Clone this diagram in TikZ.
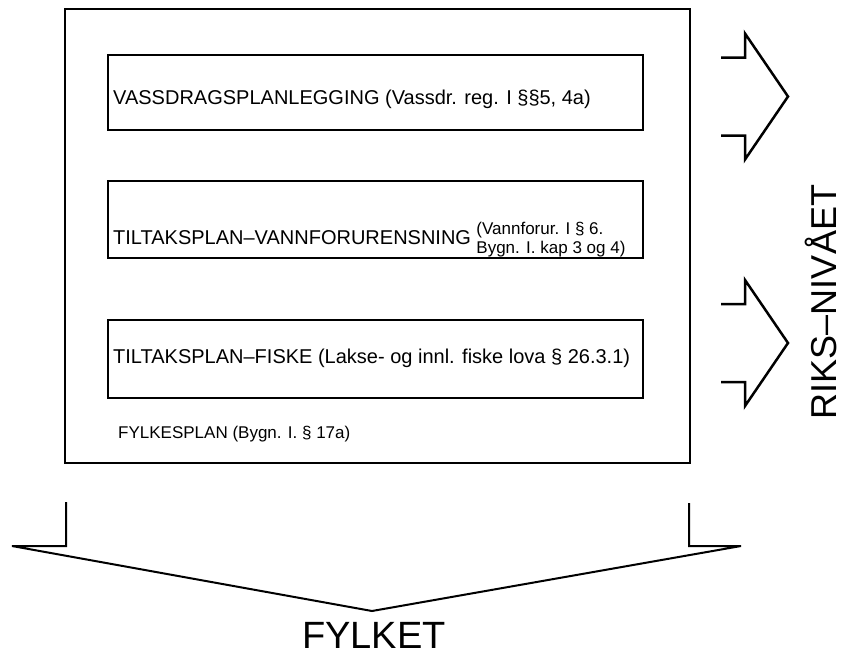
\documentclass[tikz,border=0pt]{standalone}
\usepackage{fontspec}
\setmainfont{Liberation Sans}

\tikzset{
  plan/.style={anchor=base west, inner sep=0pt, font=\fontsize{20}{24}\selectfont},
  lov/.style={anchor=base west, inner sep=0pt, font=\fontsize{17}{20}\selectfont},
  niva/.style={inner sep=0pt, font=\fontsize{40}{46}\selectfont},
  boks/.style={line width=1.2pt},
  pil/.style={line width=2.5pt, line join=miter},
  spiss/.style={line width=2pt}
}

\begin{document}
\begin{tikzpicture}
    [x=1pt, y=-1pt]

    \useasboundingbox (0, 0) rectangle (843, 659);

    % outer frame and the three plans
    \draw [boks] (65, 9) rectangle (690, 463);
    \draw [boks] (108, 55) rectangle (643, 130);
    \draw [boks] (108, 181) rectangle (643, 258);
    \draw [boks] (108, 320) rectangle (643, 398);

    \node [plan] (vassdrag) at (113, 104) {VASSDRAGSPLANLEGGING (Vassdr. reg. I §§5, 4a)};
    \node [plan] (tiltak) at (113, 244) {TILTAKSPLAN--VANNFORURENSNING};
    \node [lov, xshift=5pt, yshift=10pt] (lova) at (tiltak.base east) {(Vannforur. I § 6.};
    \node [lov, xshift=5pt, yshift=-9pt] (lovb) at (tiltak.base east) {Bygn. I. kap 3 og 4)};
    \node [plan] (fiske) at (113, 363) {TILTAKSPLAN--FISKE (Lakse- og innl. fiske lova § 26.3.1)};
    \node [lov] (fylkesplan) at (118, 438) {FYLKESPLAN (Bygn. I. § 17a)};

    % arrows to the national level
    \draw [pil] (721, 57.5) -- (745, 57.5) -- (745, 33.5) -- (788, 96.5)
                -- (745, 159.5) -- (745, 135.5) -- (721, 135.5);
    \draw [pil] (721, 304) -- (745, 304) -- (745, 280) -- (788, 343)
                -- (745, 406) -- (745, 382) -- (721, 382);

    \node [niva, font=\fontsize{36}{42}\selectfont, rotate=90, anchor=south] (riks) at (837, 302) {RIKS--NIVÅET};

    % arrow down to the county
    \draw [spiss] (66, 502) -- (66, 546) -- (12, 546) -- (372, 611)
                  -- (741, 546) -- (689, 546) -- (689, 503);

    \node [niva, font=\fontsize{38}{44}\selectfont, anchor=base] (fylket) at (374, 648) {FYLKET};

  \end{tikzpicture}
\end{document}
